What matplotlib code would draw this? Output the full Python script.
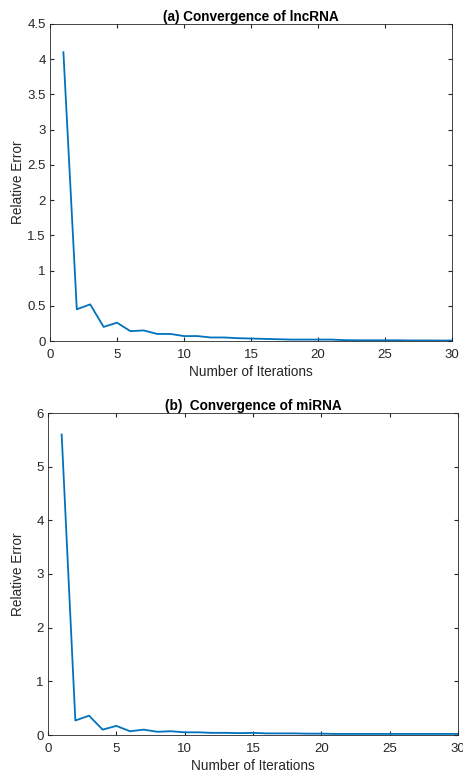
import numpy as np
import matplotlib.pyplot as plt

plt.rcParams['font.family'] = ['Liberation Sans', 'DejaVu Sans']

# Relative error per iteration
iterations = np.arange(1, 31)
err_lncrna = [4.1, 0.45, 0.52, 0.2, 0.26, 0.14, 0.15, 0.1, 0.1, 0.07,
              0.07, 0.05, 0.05, 0.04, 0.035, 0.03, 0.025, 0.02, 0.02, 0.02,
              0.02, 0.012, 0.01, 0.01, 0.01, 0.01, 0.008, 0.008, 0.007, 0.007]
err_mirna = [5.6, 0.27, 0.36, 0.1, 0.17, 0.07, 0.1, 0.06, 0.07, 0.05,
             0.05, 0.04, 0.04, 0.035, 0.04, 0.03, 0.03, 0.03, 0.025, 0.025,
             0.02, 0.02, 0.02, 0.02, 0.02, 0.02, 0.02, 0.02, 0.02, 0.02]

titles = ["(a) Convergence of lncRNA", "(b)  Convergence of miRNA"]
ylims = [(0, 4.5), (0, 6)]
yticks = [np.arange(0, 4.51, 0.5), np.arange(0, 6.1, 1)]
yticklabels = [["0", "0.5", "1", "1.5", "2", "2.5", "3", "3.5", "4", "4.5"],
               ["0", "1", "2", "3", "4", "5", "6"]]

fig = plt.figure(figsize=(4.64, 7.73), dpi=100)
axes = [fig.add_axes([50/464, 1 - 341/773, 402/464, 317/773]),
        fig.add_axes([48/464, 1 - 735/773, 410/464, 322/773])]
# ylabel x position (axes fraction), so both labels sit at the same x
ylabel_x = [(25 - 50) / 402, (25 - 48) / 410]

for ax, err, title, ylim, yt, ytl, lx in zip(axes, [err_lncrna, err_mirna], titles,
                                              ylims, yticks, yticklabels, ylabel_x):
    ax.plot(iterations, err, color='#0072BD', lw=1.3)
    ax.set_xlim(0, 30)
    ax.set_ylim(*ylim)
    ax.set_xticks(np.arange(0, 31, 5))
    ax.set_yticks(yt)
    ax.set_yticklabels(ytl)
    ax.tick_params(direction='in', top=True, right=True, labelsize=9.5,
                   length=3, color='#262626', labelcolor='#262626')
    ax.tick_params(axis='x', pad=6)
    ax.tick_params(axis='y', pad=3)
    for s in ax.spines.values():
        s.set_color('#262626')
        s.set_linewidth(0.6)
    ax.set_title(title, fontsize=9.8, fontweight='bold', pad=2)
    ax.set_xlabel("Number of Iterations", fontsize=9.8, labelpad=3, color='#262626')
    ax.set_ylabel("Relative Error", fontsize=9.8, color='#262626')
    ax.yaxis.set_label_coords(lx, 0.5)

fig.savefig('out.png', dpi=100)
